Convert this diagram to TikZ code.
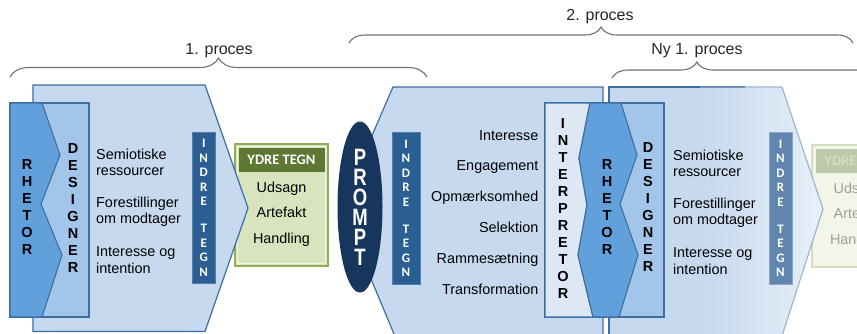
\documentclass[tikz,border=0pt]{standalone}
\usepackage{fontspec}
\setmainfont{Liberation Sans}
\newfontfamily\calibri{Carlito}
\usepackage{graphicx}
\usepackage{tikz}
\usetikzlibrary{decorations.pathreplacing,shapes.geometric}

\definecolor{bigfill}{HTML}{C6D9EF}
\definecolor{bigline}{HTML}{3C6EA0}
\definecolor{rhetorfill}{HTML}{62A0DC}
\definecolor{designfill}{HTML}{A3C5EA}
\definecolor{interpfill}{HTML}{DEE8F4}
\definecolor{indrefill}{HTML}{2B5E93}
\definecolor{promptfill}{HTML}{17365D}
\definecolor{ydrefill}{HTML}{D7E4BD}
\definecolor{ydreline}{HTML}{8FAE55}
\definecolor{ydredark}{HTML}{5E7733}
\definecolor{bracegray}{HTML}{707070}

\pgfdeclarehorizontalshading{rightfade}{100bp}{color(0bp)=(bigfill); color(25bp)=(bigfill); color(47bp)=(bigfill); color(75bp)=(bigfill!40!white); color(100bp)=(bigfill!40!white)}
\newcommand{\tallchar}[1]{\scalebox{1}[1.28]{#1}}

\begin{document}
\begin{tikzpicture}[x=1pt,y=-1pt,
    bigshape/.style={fill=bigfill,draw=bigline,line width=1.2pt},
    rhetorshape/.style={fill=rhetorfill,draw=bigline,line width=1.1pt},
    designbox/.style={fill=designfill,draw=bigline,line width=1.1pt},
    interpbox/.style={fill=interpfill,draw=bigline,line width=1.1pt},
    indrebar/.style={rectangle,fill=indrefill,draw=indrefill!80!white,line width=0.6pt,minimum height=151.5pt,inner sep=0pt,
      align=center,text=white,font=\calibri\bfseries\fontsize{13}{14.5}\selectfont},
    letters/.style={align=center,inner sep=0pt,font=\bfseries\fontsize{14.5}{17}\selectfont},
    itemtext/.style={inner sep=0pt,font=\fontsize{14.4}{17}\selectfont},
    ydretitle/.style={inner sep=0pt,text=white,font=\calibri\bfseries\fontsize{14.5}{17}\selectfont},
    proctext/.style={inner sep=0pt,text=black!85,font=\fontsize{16}{19}\selectfont},
    procbrace/.style={draw=bracegray,line width=1.1pt,decorate,decoration={brace,amplitude=#1}},
  ]
  \useasboundingbox (0,0) rectangle (857,333);
  \clip (0,0) rectangle (857,333);

  % braces over the processes
  \draw[procbrace=19pt] (10,77) -- (427,77);
  \node[proctext,anchor=base] (proc1) at (219,54) {1. proces};
  \draw[procbrace=16pt] (349,43) -- (853,43);
  \node[proctext,anchor=base] (proc2) at (600,20) {2. proces};
  \draw[draw=bracegray,line width=1.1pt,decorate,decoration={brace,amplitude=16pt,aspect=0.203}] (612,78) -- (1030,78);
  \node[proctext,anchor=base] (proc3) at (697,54) {Ny 1. proces};

  % first process: ydre tegn sits under the arrow tip
  \filldraw[fill=ydrefill,draw=ydreline,line width=2pt] (235,144) rectangle (328,266);
  \draw[ydrefill!40!white,line width=0.7pt] (237.5,146.5) rectangle (325.5,263.5);
  \fill[ydredark] (238.5,147.5) rectangle (324.5,172);
  \node[ydretitle,anchor=base] (ydreL) at (281.5,164.3) {YDRE TEGN};
  \node[itemtext,anchor=base] (udsagnL) at (281.5,192.7) {Udsagn};
  \node[itemtext,anchor=base] (artefaktL) at (281.5,217.7) {Artefakt};
  \node[itemtext,anchor=base] (handlingL) at (281.5,243.3) {Handling};

  \filldraw[bigshape] (33,85) -- (205,85) -- (248,208) -- (205,331.5) -- (33,331.5) -- cycle;
  \filldraw[designbox] (10,103) rectangle (89,317);
  \filldraw[rhetorshape] (10,103) -- (42,103) -- (60,155) -- (41,204) -- (62,255) -- (42,317) -- (10,317) -- cycle;
  \node[letters] (rhetorL) at (27,207.5) {R\\H\\E\\T\\O\\R};
  \node[letters] (designerL) at (73,208) {D\\E\\S\\I\\G\\N\\E\\R};

  \node[itemtext,anchor=base west] (semL) at (96,159) {Semiotiske};
  \node[itemtext,anchor=base west] (resL) at (96,175.5) {ressourcer};
  \node[itemtext,anchor=base west] (forL) at (96,207) {Forestillinger};
  \node[itemtext,anchor=base west] (modL) at (96,223.5) {om modtager};
  \node[itemtext,anchor=base west] (intL) at (96,256) {Interesse og};
  \node[itemtext,anchor=base west] (intentL) at (96,273) {intention};

  \node[indrebar,minimum width=22.5pt] (indreL) at (203.75,207.75) {I\\N\\D\\R\\E\\[12.5pt]T\\E\\G\\N};

  % second process
  \filldraw[bigshape] (393,87) -- (603,87) -- (603,340) -- (394,340) -- (394,334) -- (341,207) -- cycle;
  \node[ellipse,fill=promptfill,minimum width=45pt,minimum height=171pt,inner sep=0pt,align=center,text=white,
    font=\bfseries\fontsize{18.5}{20}\selectfont] (prompt) at (360,207)
    {\tallchar{P}\\\tallchar{R}\\\tallchar{O}\\\tallchar{M}\\\tallchar{P}\\\tallchar{T}};
  \node[indrebar,minimum width=28pt] (indreM) at (406,208.5) {I\\N\\D\\R\\E\\[12.5pt]T\\E\\G\\N};

  \node[itemtext,anchor=base east] (interesse) at (538.5,140) {Interesse};
  \node[itemtext,anchor=base east] (engagement) at (538.5,170.8) {Engagement};
  \node[itemtext,anchor=base east] (opmaerk) at (538.5,201.6) {Opmærksomhed};
  \node[itemtext,anchor=base east] (selektion) at (538.5,232.4) {Selektion};
  \node[itemtext,anchor=base east] (rammes) at (538.5,263.2) {Rammesætning};
  \node[itemtext,anchor=base east] (transf) at (538.5,294) {Transformation};

  % new first process, fading out to the right
  \begin{scope}[opacity=0.35]
    \filldraw[fill=ydrefill,draw=ydreline,line width=2pt] (812,145) rectangle (905,267);
    \fill[ydredark] (815.5,148.5) rectangle (901.5,173);
    \node[ydretitle,anchor=base] (ydreR) at (858.5,165.3) {YDRE TEGN};
    \node[itemtext,anchor=base] (udsagnR) at (858.5,193.7) {Udsagn};
    \node[itemtext,anchor=base] (artefaktR) at (858.5,218.7) {Artefakt};
    \node[itemtext,anchor=base] (handlingR) at (858.5,244.3) {Handling};
  \end{scope}
  \path[shading=rightfade,draw=bigline!50!white,line width=1.2pt] (609,87) -- (782,87) -- (823,209) -- (782,336) -- (609,336) -- cycle;
  \draw[bigline!75!white,line width=1.2pt] (700,87) -- (745,87);
  \draw[bigline,line width=1.2pt] (700,87) -- (609,87) -- (609,340);

  \filldraw[designbox] (545,103) rectangle (664,317);
  \filldraw[interpbox] (545,103) -- (590,103) -- (579,158) -- (587,205) -- (578,255) -- (593,317) -- (545,317) -- cycle;
  \filldraw[rhetorshape] (590,103) -- (621,103) -- (637,155) -- (620,204) -- (638,255) -- (619,317) -- (593,317) -- (578,255) -- (587,205) -- (579,158) -- cycle;
  \node[letters] (interp) at (563,209) {I\\N\\T\\E\\R\\P\\R\\E\\T\\O\\R};
  \node[letters] (rhetorR) at (607,207.5) {R\\H\\E\\T\\O\\R};
  \node[letters] (designerR) at (648,207.5) {D\\E\\S\\I\\G\\N\\E\\R};

  \node[itemtext,anchor=base west] (semR) at (673,160) {Semiotiske};
  \node[itemtext,anchor=base west] (resR) at (673,176.5) {ressourcer};
  \node[itemtext,anchor=base west] (forR) at (673,208) {Forestillinger};
  \node[itemtext,anchor=base west] (modR) at (673,224.5) {om modtager};
  \node[itemtext,anchor=base west] (intR) at (673,257) {Interesse og};
  \node[itemtext,anchor=base west] (intentR) at (673,274) {intention};

  \node[indrebar,minimum width=23pt,fill=indrefill!75!white,draw=indrefill!55!white] (indreR) at (780.5,208.5) {I\\N\\D\\R\\E\\[12.5pt]T\\E\\G\\N};
\end{tikzpicture}
\end{document}
